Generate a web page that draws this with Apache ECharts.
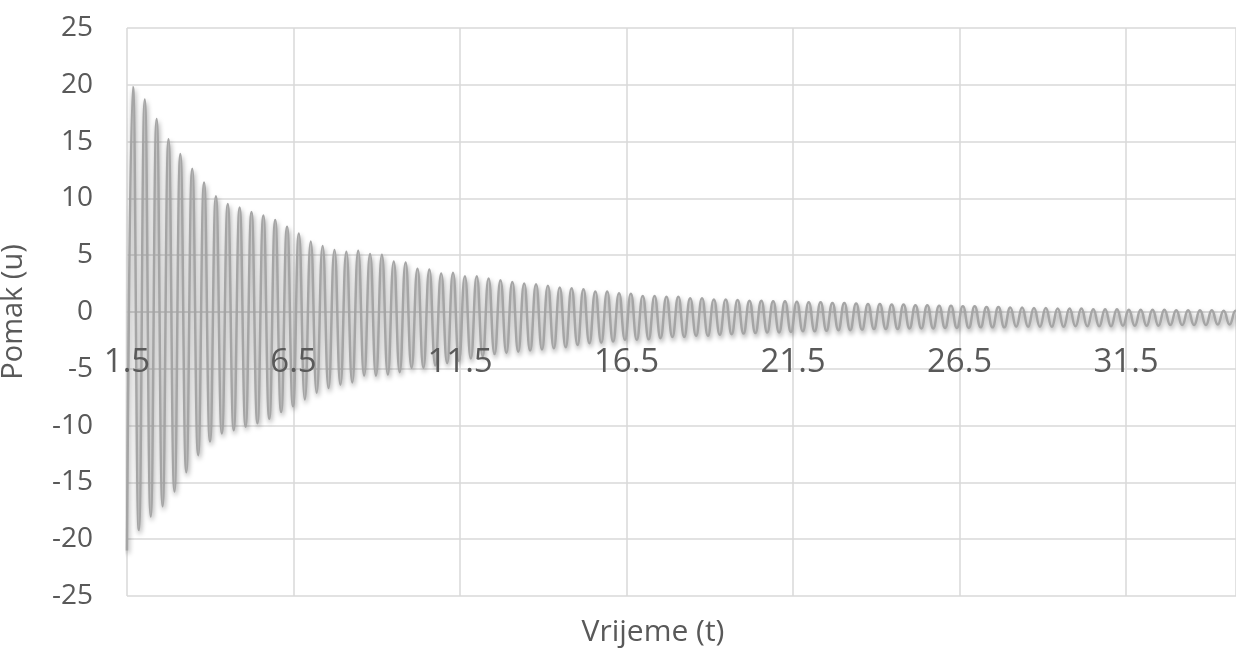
<!DOCTYPE html>
<html lang="hr">

<head>
    <meta charset="UTF-8">
    <title>Pomak (u) - Vrijeme (t)</title>
    <style>
        html, body { margin: 0; padding: 0; background: #fff; }
        #chart { width: 1236px; height: 650px; }
    </style>
</head>

<body>
    <div id="chart"></div>
</body>

<script src="https://cdn.jsdelivr.net/npm/echarts@6/dist/echarts.min.js"></script>
<script>
    // vrijeme pocinje na 1.5, razmak izmedu vrha i dola ~0.178
    const T0 = 1.5;
    const HALF_STEP = 0.178;
    const X_SPAN = 33.3;

    const startValue = -21;

    // vrhovi (gornji ekstremi) ocitani sa slike
    const peaks = [
        19.8, 18.7, 17.0, 15.2, 13.9, 12.6, 11.4, 10.2, 9.5, 9.2, 8.8, 8.5, 8.1, 7.5, 6.9, 6.2,
        5.8, 5.45, 5.3, 5.4, 5.1, 5.05, 4.45, 4.35, 3.8, 3.75,
        3.4, 3.45, 3.15, 3.15, 2.95, 2.8, 2.65, 2.5, 2.45, 2.3, 2.15,
        2.1, 2.0, 1.8, 1.8, 1.65, 1.6, 1.4, 1.4, 1.35, 1.35, 1.2, 1.2,
        1.1, 1.1, 1.05, 1.0, 1.0, 0.95, 0.95, 0.9, 0.85, 0.85, 0.8, 0.8, 0.75,
        0.7, 0.7, 0.65, 0.65, 0.6, 0.6, 0.55, 0.55, 0.5, 0.5, 0.45, 0.45, 0.4, 0.4, 0.35,
        0.35, 0.3, 0.3, 0.3, 0.25, 0.25, 0.25, 0.2, 0.2, 0.2, 0.2, 0.15, 0.15, 0.15, 0.15, 0.1, 0.1
    ];

    // dolovi (donji ekstremi)
    const troughs = [
        -19.2, -18.0, -17.1, -15.8, -14.1, -12.6, -11.4, -10.7, -10.4, -10.1, -9.8, -9.4, -8.8, -8.3, -7.7, -7.1,
        -6.7, -6.4, -6.2, -5.6, -5.6, -5.5, -5.3, -4.9, -4.9,
        -4.7, -4.5, -4.3, -4.1, -3.9, -3.7, -3.6, -3.5, -3.4, -3.3, -3.2,
        -3.1, -2.9, -2.75, -2.7, -2.6, -2.45, -2.45, -2.4, -2.3, -2.2, -2.2, -2.1, -2.1,
        -2.0, -1.95, -1.9, -1.85, -1.8, -1.8, -1.75, -1.7, -1.7, -1.65, -1.6, -1.6, -1.55,
        -1.5, -1.5, -1.5, -1.45, -1.45, -1.45, -1.4, -1.4, -1.4, -1.35, -1.35, -1.35, -1.3, -1.3, -1.3,
        -1.3, -1.3, -1.25, -1.25, -1.25, -1.25, -1.2, -1.2, -1.2, -1.2, -1.15, -1.15, -1.15, -1.15, -1.1, -1.1, -1.1
    ];

    const yTicks = { min: -25, max: 25, interval: 5 };
    const xTickInterval = 5;

    function buildSeriesData() {
        let data = [[0, startValue]];
        for (let k = 0; k < peaks.length; k++) {
            data.push([(2 * k + 1) * HALF_STEP, peaks[k]]);
            if (k < troughs.length) data.push([(2 * k + 2) * HALF_STEP, troughs[k]]);
        }
        return data;
    }

    function getChartOption() {
        const textColor = '#595959';
        const gridColor = '#d9d9d9';
        const font = 'Open Sans';
        return {
            animation: false,
            textStyle: { fontFamily: font },
            title: {
                text: 'Vrijeme (t)',
                left: 648,
                top: 612,
                textAlign: 'center',
                textStyle: { fontSize: 30, fontWeight: 'normal', color: textColor, fontFamily: font }
            },
            grid: { left: 127, right: 0, top: 28, bottom: 54, outerBoundsMode: 'none', containLabel: false },
            xAxis: [
                {
                    // mreza i linija osi na nuli
                    type: 'value',
                    min: 0,
                    max: X_SPAN,
                    interval: xTickInterval,
                    offset: -284,
                    axisLine: { onZero: false, lineStyle: { color: gridColor, width: 1.5 } },
                    axisTick: { show: false },
                    axisLabel: { show: false },
                    splitLine: { show: true, lineStyle: { color: gridColor, width: 1.5 } }
                },
                {
                    // samo oznake, iznad krivulje
                    type: 'value',
                    position: 'bottom',
                    min: 0,
                    max: X_SPAN,
                    interval: xTickInterval,
                    offset: -284,
                    z: 5,
                    axisLine: { show: false, onZero: false },
                    axisTick: { show: false },
                    splitLine: { show: false },
                    axisLabel: {
                        fontSize: 33,
                        color: textColor,
                        fontFamily: font,
                        margin: 34,
                        showMaxLabel: false,
                        formatter: function (v) { return (v + T0).toFixed(1); }
                    }
                }
            ],
            yAxis: {
                type: 'value',
                min: yTicks.min,
                max: yTicks.max,
                interval: yTicks.interval,
                name: 'Pomak (u)',
                nameLocation: 'middle',
                nameGap: 99,
                nameTextStyle: { fontSize: 29, color: textColor, fontFamily: font },
                axisLine: { show: false },
                axisTick: { show: false },
                axisLabel: { fontSize: 28, color: textColor, fontFamily: font, margin: 34 },
                splitLine: { lineStyle: { color: gridColor, width: 1.5 } }
            },
            series: [{
                type: 'line',
                xAxisIndex: 0,
                data: buildSeriesData(),
                showSymbol: false,
                smooth: 0.5,
                lineStyle: {
                    color: '#a5a5a5',
                    width: 2.5,
                    shadowColor: 'rgba(0, 0, 0, 0.4)',
                    shadowBlur: 5,
                    shadowOffsetX: 1,
                    shadowOffsetY: 3
                }
            }]
        };
    }

    let myChart = echarts.init(document.getElementById('chart'));
    myChart.setOption(getChartOption());
    window.onresize = function () {
        myChart.resize();
    };
</script>

</html>
